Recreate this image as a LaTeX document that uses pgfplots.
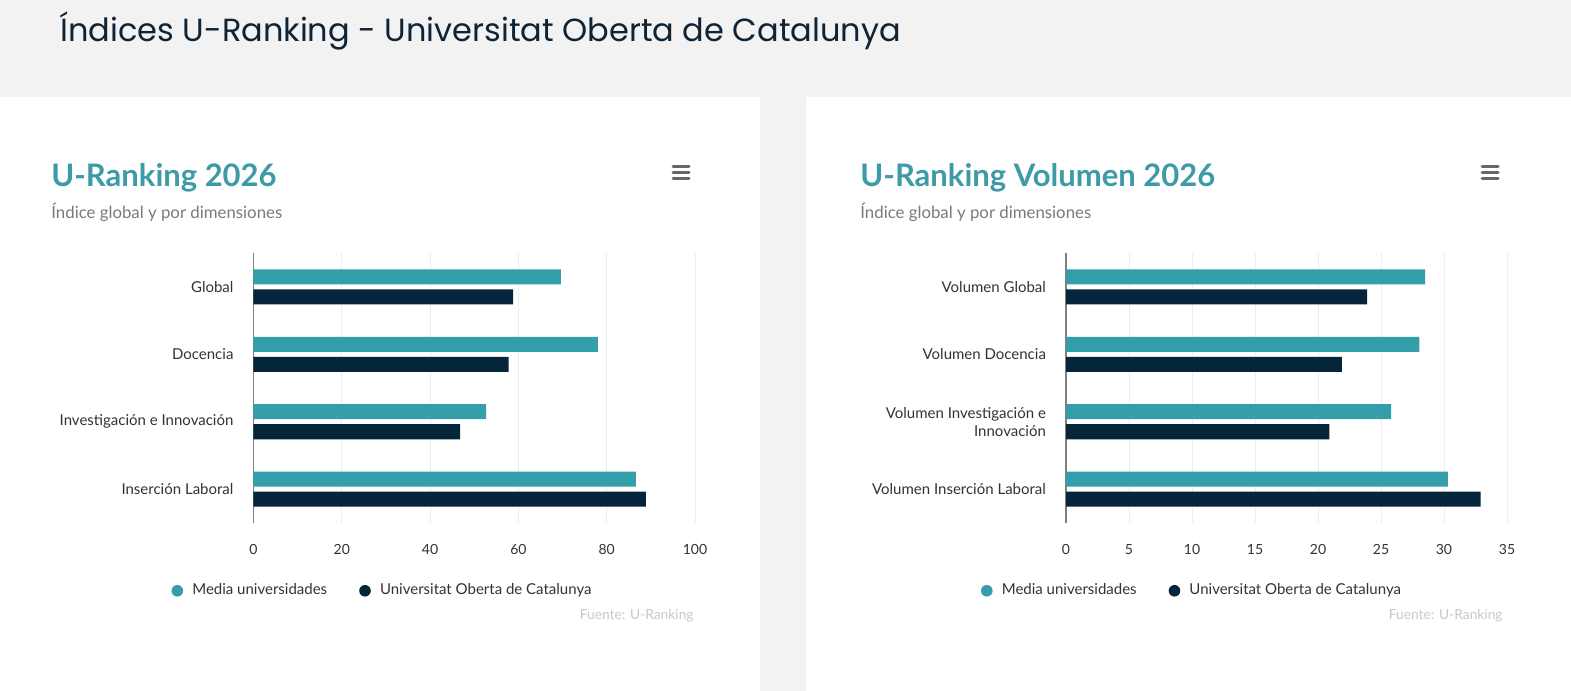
\documentclass[border=0pt]{standalone}
\usepackage{fontspec}
\setmainfont{Lato}
\newfontfamily\titlefont{Poppins}
\usepackage{pgfplots}
\pgfplotsset{compat=1.18}
\definecolor{bgpage}{HTML}{F2F2F2}
\definecolor{teal1}{HTML}{349EAA}
\definecolor{navy1}{HTML}{05263A}
\definecolor{titlecol}{HTML}{0E2335}
\definecolor{headcol}{HTML}{3C9BA6}
\definecolor{subcol}{HTML}{7A7A7A}
\definecolor{labcol}{HTML}{333333}
\definecolor{gridcol}{HTML}{EDEDED}
\definecolor{axcol}{HTML}{7F7F7F}
\definecolor{srccol}{HTML}{C8C8C8}
\definecolor{iconcol}{HTML}{666666}

\pgfplotsset{
 urank/.style={
  xbar, scale only axis, height=135pt,
  ymin=-0.5, ymax=3.5, ytick={0,1,2,3},
  bar width=7.5pt,
  xmajorgrids, grid style={gridcol, line width=0.5pt},
  separate axis lines,
  axis x line*=bottom, x axis line style={draw=none},
  axis y line*=left, y axis line style={axcol, line width=0.8pt, -},
  major tick length=0pt,
  tick label style={font=\fontsize{7}{8.4}\selectfont, text=labcol},
  yticklabel style={font=\fontsize{7.5}{9}\selectfont, align=right, xshift=-6.5pt},
  xticklabel style={yshift=-7pt},
  /pgf/number format/assume math mode=true,
  legend columns=2,
  legend style={draw=none, fill=none, font=\fontsize{7.5}{9}\selectfont, text=labcol, anchor=center,
    /tikz/every even column/.append style={column sep=14pt}},
  legend image code/.code={\fill[##1] (0.12cm,0) circle (2.9pt); \path (0.12cm+5.5pt,0);},
 }
}

\begin{document}
\begin{tikzpicture}[x=0.5pt,y=0.5pt]
\fill[bgpage] (0,0) rectangle (1571,691);
\fill[white] (0,0) rectangle (760,594);
\fill[white] (806,0) rectangle (1571,594);
\node[anchor=base west, inner sep=0, font=\titlefont\fontsize{16}{19}\selectfont, text=titlecol] at (60,649) {Índices U-Ranking - Universitat Oberta de Catalunya};

% left panel
\node[anchor=base west, inner sep=0, font=\bfseries\fontsize{15.5}{18}\selectfont, text=headcol] at (51,504) {U-Ranking 2026};
\node[anchor=base west, inner sep=0, font=\fontsize{8.4}{10}\selectfont, text=subcol] at (51,472) {Índice global y por dimensiones};
\foreach \yy in {524,518,512} \draw[iconcol, line width=1.5pt, line cap=round] (673,\yy) -- (689,\yy);
\node[anchor=base east, inner sep=0, font=\fontsize{6.9}{8}\selectfont, text=srccol] at (694,71) {Fuente: U-Ranking};

% right panel
\node[anchor=base west, inner sep=0, font=\bfseries\fontsize{15.5}{18}\selectfont, text=headcol] at (860,504) {U-Ranking Volumen 2026};
\node[anchor=base west, inner sep=0, font=\fontsize{8.4}{10}\selectfont, text=subcol] at (860,472) {Índice global y por dimensiones};
\foreach \yy in {524,518,512} \draw[iconcol, line width=1.5pt, line cap=round] (1482,\yy) -- (1498,\yy);
\node[anchor=base east, inner sep=0, font=\fontsize{6.9}{8}\selectfont, text=srccol] at (1503,71) {Fuente: U-Ranking};

\begin{axis}[urank, at={(126.75pt,84pt)}, anchor=south west, width=220.75pt,
  xmin=0, xmax=100, xtick={0,20,40,60,80,100},
  yticklabels={Inserción Laboral, Investigación e Innovación, Docencia, Global},
  legend style={at={(0.2945,-0.251)}}]
\addplot[fill=teal1, draw=none, bar shift=5pt] coordinates {(86.6,0) (52.7,1) (78.0,2) (69.6,3)};
\addplot[fill=navy1, draw=none, bar shift=-5pt] coordinates {(88.9,0) (46.8,1) (57.8,2) (58.8,3)};
\legend{Media universidades, Universitat Oberta de Catalunya}
\end{axis}

\begin{axis}[urank, at={(533pt,84pt)}, anchor=south west, width=220.5pt,
  xmin=0, xmax=35, xtick={0,5,10,15,20,25,30,35},
  yticklabels={Volumen Inserción Laboral, {Volumen Investigación e\\Innovación}, Volumen Docencia, Volumen Global},
  legend style={at={(0.288,-0.251)}}]
\addplot[fill=teal1, draw=none, bar shift=5pt] coordinates {(30.3,0) (25.8,1) (28.05,2) (28.5,3)};
\addplot[fill=navy1, draw=none, bar shift=-5pt] coordinates {(32.9,0) (20.9,1) (21.9,2) (23.9,3)};
\legend{Media universidades, Universitat Oberta de Catalunya}
\end{axis}
\end{tikzpicture}
\end{document}
